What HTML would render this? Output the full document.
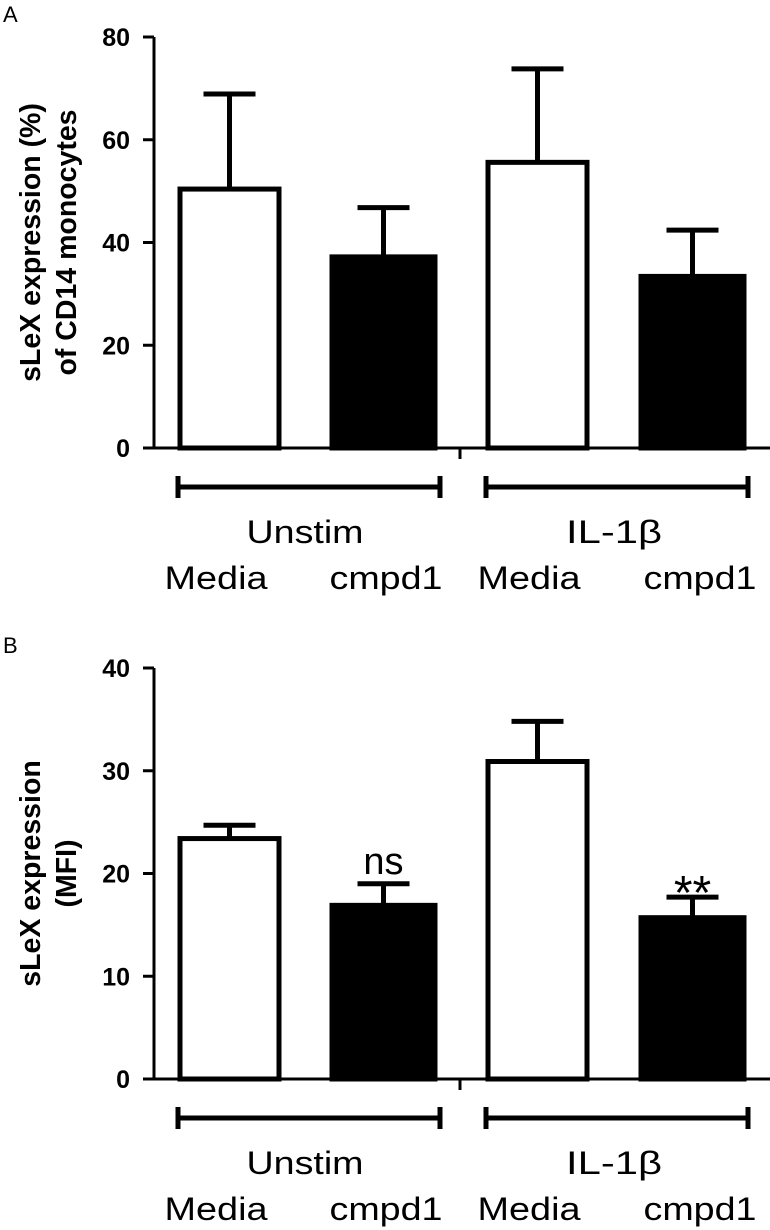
<!DOCTYPE html>
<html><head><meta charset="utf-8"><style>
body{margin:0;background:#fff}
svg{display:block;font-family:"Liberation Sans",sans-serif}
</style></head><body>
<svg id="fig" width="770" height="1230" viewBox="0 0 770 1230"></svg>
<script>
const categories = ["Media","cmpd1","Media","cmpd1"];
const groups = ["Unstim","IL-1\u03b2"];
const aValues = [50.4, 37.2, 55.6, 33.4];
const aErrors = [18.5, 9.6, 18.2, 9.0];
const aTicks = [0,20,40,60,80];
const bValues = [23.4, 16.9, 30.9, 15.7];
const bErrors = [1.3, 2.1, 3.9, 2.0];
const bTicks = [0,10,20,30,40];
const bAnnot = ["","ns","","**"];

const NS="http://www.w3.org/2000/svg";
const svg=document.getElementById('fig');
function el(t,a,p){const e=document.createElementNS(NS,t);for(const k in a)e.setAttribute(k,a[k]);(p||svg).appendChild(e);return e;}
const barX=[[178,281],[330,437],[486,589],[639,746]];

function panel(off,letter,values,errors,ticks,ymax,titleLines,annot){
  const g=el('g',{});
  
  
  const y0=448+off, y1=37+off;
  const Y=v=>y0-(v/ymax)*(y0-y1);
  const t=el('text',{x:3,y:22+off,'font-size':22},g);t.textContent=letter;
  
  const ya=el('line',{x1:154,y1:y1,x2:154,y2:y0,stroke:'#000','stroke-width':3},g);
  
  ticks.forEach(v=>{
    el('line',{x1:143,y1:Y(v),x2:154,y2:Y(v),stroke:'#000','stroke-width':3},g);
    const tl=el('text',{x:130,y:Y(v)+9,'font-size':25,'font-weight':'bold','text-anchor':'end'},g);
    tl.textContent=v;
    
  });
  const xa=el('line',{x1:143,y1:y0,x2:770,y2:y0,stroke:'#000','stroke-width':3},g);
  
  el('line',{x1:460,y1:y0,x2:460,y2:y0+11,stroke:'#000','stroke-width':3},g);
  const cy=(y0+y1)/2;
  titleLines.forEach((s,i)=>{
    const tt=el('text',{x:0,y:0,'font-size':28.5,'font-weight':'bold','text-anchor':'middle',
      transform:`translate(${40+i*36},${cy}) rotate(-90)`},g);
    tt.textContent=s;
    
  });
  values.forEach((v,i)=>{
    const [xa1,xa2]=barX[i];const cx=(xa1+xa2)/2;const fill=i%2?'#000':'#fff';
    const top=Y(v),etop=Y(v+errors[i]);
    const eb=el('line',{x1:cx,y1:etop,x2:cx,y2:top,stroke:'#000','stroke-width':5},g);
    
    el('line',{x1:cx-26,y1:etop,x2:cx+26,y2:etop,stroke:'#000','stroke-width':5},g);
    const r=el('rect',{x:xa1+2,y:top,width:xa2-xa1-4,height:y0-top,fill:fill,stroke:'#000','stroke-width':5},g);
    
    if(annot&&annot[i]){
      const big=annot[i]=='**';
      const at=el('text',{x:cx,y:big?etop+12:etop-10,'font-size':big?48:38,'text-anchor':'middle'},g);
      at.textContent=annot[i];
      
    }
  });
  const gy=487+off;
  [[178,440],[486,748]].forEach((p,j)=>{
    const gl=el('line',{x1:p[0],y1:gy,x2:p[1],y2:gy,stroke:'#000','stroke-width':5},g);
    
    el('line',{x1:p[0],y1:gy-11,x2:p[0],y2:gy+11,stroke:'#000','stroke-width':5},g);
    el('line',{x1:p[1],y1:gy-11,x2:p[1],y2:gy+11,stroke:'#000','stroke-width':5},g);
    const gt=el('text',{x:[305,614][j],y:543+off,'font-size':32,'text-anchor':'middle',
      textLength:[117,96][j],lengthAdjust:'spacingAndGlyphs'},g);
    gt.textContent=groups[j];
    
  });
  [216,386,529,700].forEach((x,i)=>{
    const ct=el('text',{x:x,y:589+off,'font-size':32,'text-anchor':'middle',
      textLength:i%2?113:103,lengthAdjust:'spacingAndGlyphs'},g);
    ct.textContent=categories[i];
    
  });
}
panel(0,'A',aValues,aErrors,aTicks,80,['sLeX expression (%)','of CD14 monocytes'],null);
panel(631,'B',bValues,bErrors,bTicks,40,['sLeX expression','(MFI)'],bAnnot);
</script>
</body></html>
